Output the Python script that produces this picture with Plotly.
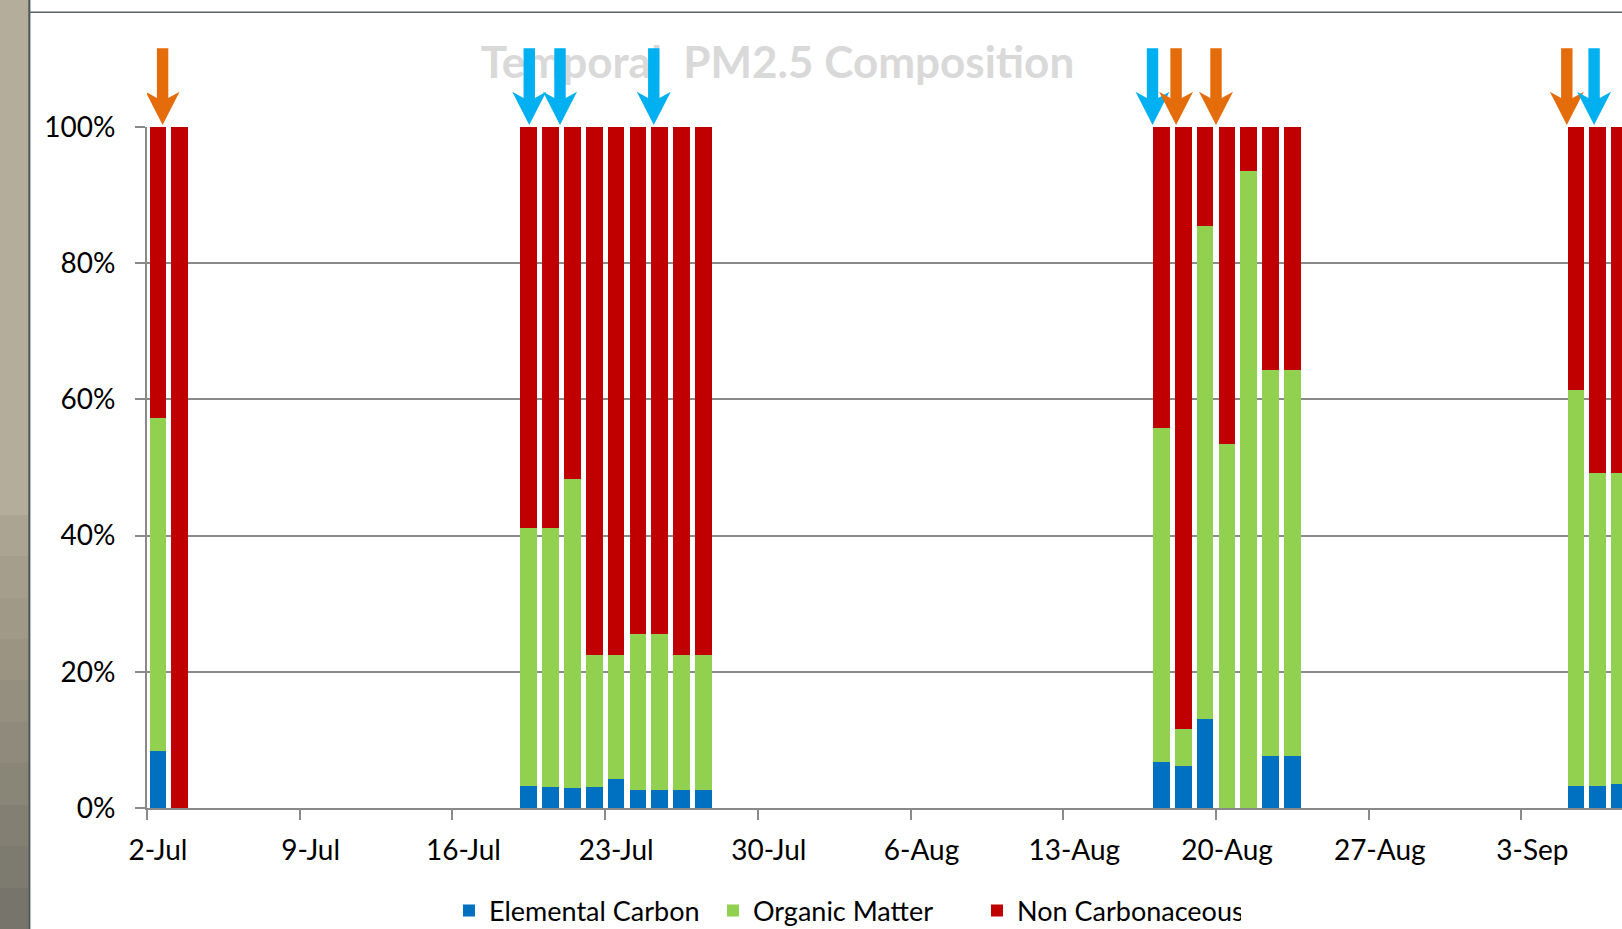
import plotly.graph_objects as go

# ---------------- data (percent of PM2.5 mass) ----------------
dates = [
    "2012-07-02", "2012-07-03",
    "2012-07-19", "2012-07-20", "2012-07-21", "2012-07-22", "2012-07-23",
    "2012-07-24", "2012-07-25", "2012-07-26", "2012-07-27",
    "2012-08-17", "2012-08-18", "2012-08-19", "2012-08-20", "2012-08-21",
    "2012-08-22", "2012-08-23",
    "2012-09-05", "2012-09-06", "2012-09-07",
]
elemental_carbon = [8.4, 0.0,
                    3.2, 3.1, 3.0, 3.1, 4.2, 2.7, 2.7, 2.7, 2.6,
                    6.8, 6.2, 13.0, -0.4, -0.4, 7.6, 7.6,
                    3.2, 3.2, 3.5]
organic_matter = [48.8, -0.4,
                  37.9, 38.0, 45.3, 19.4, 18.3, 22.9, 22.9, 19.7, 19.8,
                  49.0, 5.45, 72.5, 53.4, 93.5, 56.7, 56.7,
                  58.2, 46.0, 45.7]
non_carbonaceous = [42.8, 100.0,
                    58.9, 58.9, 51.7, 77.5, 77.5, 74.4, 74.4, 77.6, 77.6,
                    44.2, 88.4, 14.5, 46.6, 6.5, 35.7, 35.7,
                    38.6, 50.8, 50.8]

series_names = ["Elemental Carbon", "Organic Matter", "Non Carbonaceous"]
series_colors = ["#0070C0", "#92D050", "#C00000"]

y_tick_values = [0, 20, 40, 60, 80, 100]
y_tick_labels = ["0%", "20%", "40%", "60%", "80%", "100%"]
x_range = ["2012-07-02", "2012-09-07 14:38"]
title_text = "Temporal\u00a0 PM2.5 Composition"

# event arrows (annotation markers above the bars)
arrow_times = ["2012-07-02 17:10", "2012-07-19 12:30", "2012-07-20 22:20",
               "2012-07-25 05:30", "2012-08-17 02:10", "2012-08-18 04:05",
               "2012-08-20 00:00", "2012-09-05 01:55", "2012-09-06 07:55"]
arrow_colors = ["#E46C0A", "#00B0F0", "#00B0F0", "#00B0F0", "#00B0F0",
                "#E46C0A", "#E46C0A", "#E46C0A", "#00B0F0"]

# ---------------- geometry / style ----------------
W, H = 1622, 929
ML, MR, MT, MB = 147, 0, 127, 121
PW, PH = W - ML - MR, H - MT - MB
DAY_MS = 86400000
BAR_W = 0.765 * DAY_MS
FONT = "Lato"
GRID = "#8A8A8A"


def px_x(x):
    return (x - ML) / PW


def px_y(y):
    return (H - MB - y) / PH


fig = go.Figure()
for name, vals, col in zip(series_names,
                           [elemental_carbon, organic_matter, non_carbonaceous],
                           series_colors):
    fig.add_trace(go.Bar(
        x=dates, y=vals, name=name, marker_color=col, marker_line_width=0,
        width=BAR_W, xperiod=DAY_MS, xperiodalignment="middle",
        cliponaxis=False,
    ))

shapes = []
# slide decoration: left strip (banded gradient) and frame lines
strip_bands = [(-5, 515, "#B5AD9C"), (515, 556, "#ACA493"), (556, 598, "#A69E8D"),
               (598, 639, "#A09988"), (639, 680, "#9B9483"), (680, 722, "#958F7F"),
               (722, 763, "#8F8A7B"), (763, 805, "#898577"), (805, 846, "#838073"),
               (846, 888, "#7D7A70"), (888, 1000, "#77746C")]
for y0, y1, c in strip_bands:
    shapes.append(dict(type="rect", xref="paper", yref="paper",
                       x0=px_x(-2), x1=px_x(28.5), y0=px_y(y1), y1=px_y(y0),
                       fillcolor=c, line=dict(width=0), layer="above"))
shapes.append(dict(type="line", xref="paper", yref="paper",
                   x0=px_x(29.3), x1=px_x(29.3), y0=px_y(1000), y1=px_y(-5),
                   line=dict(color="#4E5658", width=2.2), layer="above"))
shapes.append(dict(type="line", xref="paper", yref="paper",
                   x0=px_x(29), x1=px_x(1625), y0=px_y(12.3), y1=px_y(12.3),
                   line=dict(color="#5F6466", width=1.6), layer="above"))

# title (as a shape label so the arrows are drawn over it)
shapes.append(dict(type="rect", xref="paper", yref="paper",
                   x0=px_x(470), x1=px_x(1085), y0=px_y(89), y1=px_y(31),
                   line=dict(width=0), fillcolor="rgba(0,0,0,0)", layer="below",
                   label=dict(text=title_text, textposition="middle center",
                              font=dict(family=FONT, size=44, color="#D9D9D9",
                                        weight="bold"))))

# block arrows, pixel-sized, anchored at the data date and the top of the plot
arrow_path = ("M0,2 L17,35.3 L5.7,29 L5.7,78.7 L-5.7,78.7 "
              "L-5.7,29 L-17,35.3 Z")
for t, c in zip(arrow_times, arrow_colors):
    shapes.append(dict(type="path", xref="x", yref="paper",
                       xsizemode="pixel", ysizemode="pixel",
                       xanchor=t, yanchor=1, path=arrow_path,
                       fillcolor=c, line=dict(width=0), layer="above"))

fig.update_layout(
    width=W, height=H, autosize=False,
    margin=dict(l=ML, r=MR, t=MT, b=MB, pad=0, autoexpand=False),
    paper_bgcolor="white", plot_bgcolor="white",
    barmode="relative", bargap=0,
    font=dict(family=FONT, color="#000000"),
    showlegend=True,
    legend=dict(orientation="h", x=px_x(449), xanchor="left",
                y=px_y(911), yanchor="middle", traceorder="normal",
                entrywidth=219, entrywidthmode="pixels",
                font=dict(family=FONT, size=27, color="#000000"),
                bgcolor="rgba(0,0,0,0)"),
    shapes=shapes,
    xaxis=dict(type="date", range=x_range, tick0="2012-07-02", dtick=7 * DAY_MS,
               tickformat="%-d-%b", ticks="outside", ticklen=10, tickwidth=2,
               tickcolor=GRID, showline=True, linecolor=GRID, linewidth=2,
               showgrid=False, zeroline=False,
               tickfont=dict(family=FONT, size=28, color="#000000"),
               ticklabelshift=11, ticklabelstandoff=6),
    yaxis=dict(range=[0, 100], tickmode="array", tickvals=y_tick_values,
               ticktext=y_tick_labels, ticks="outside", ticklen=10, tickwidth=2,
               tickcolor=GRID, showline=True, linecolor=GRID, linewidth=2,
               showgrid=True, gridcolor=GRID, gridwidth=2, zeroline=False,
               tickfont=dict(family=FONT, size=28, color="#000000"),
               ticklabelstandoff=14),
)

fig.write_html("out.html", config={"displayModeBar": False},
               post_script="document.body.style.margin='0';"
                           "document.body.style.overflow='hidden';")
